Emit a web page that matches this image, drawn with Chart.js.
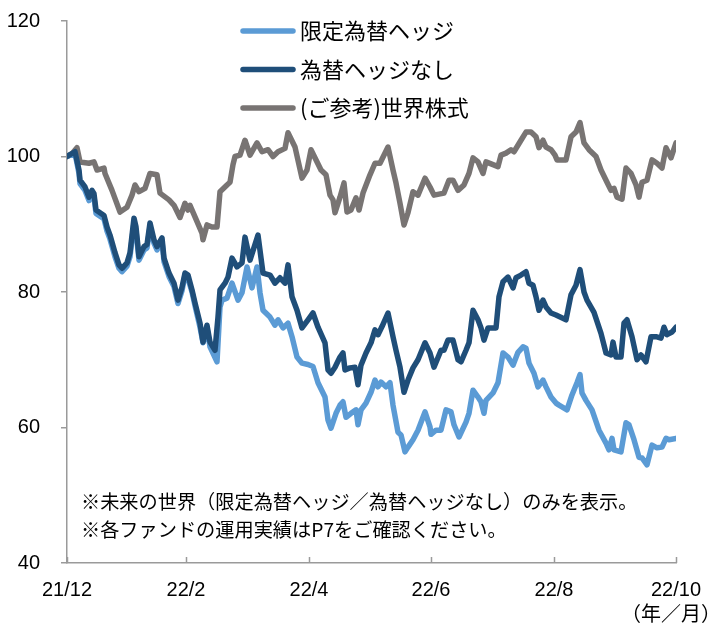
<!DOCTYPE html>
<html lang="ja">
<head>
<meta charset="utf-8">
<title>未来の世界</title>
<script src="https://cdn.jsdelivr.net/npm/chart.js@4.4.0/dist/chart.umd.min.js"></script>
<style>
  body { margin: 0; background: #fff; }
  #wrap { width: 722px; height: 625px; }
</style>
</head>
<body>
<div id="wrap"><canvas id="chart" width="722" height="625"></canvas></div>
<script>
// x = days from 2021/12/1
const tickDays = [0, 59.5, 121, 182, 243.5, 304.5];
const tickLabels = ["21/12", "22/2", "22/4", "22/6", "22/8", "22/10"];

const seriesNames = ["限定為替ヘッジ", "為替ヘッジなし", "(ご参考)世界株式"];

const hedgeDays = [0,4,6,6.5,9,11,12.5,13.5,14.5,16.5, 18.5,20,21.5,24,26,27.5,30,31.5,33.5,34.5,
  36,38.5,40,41.5,43.5,45,47.5,48.5,51,53.5, 55.5,57.5,59,60.5,62.5,64,66.5,68,70,71.5,
  75,76.5,77.5,80,82.5,85.5,87.5,90,92.5,95, 96.5,98,101.5,104,105.5,108,110.5,112.5,115,117.5,
  120.5,123,125.5,129,130.5,132,134.5,136.5,138,139.5, 142,144.5,145.5,147,149.5,152,154,155.5,157,159.5,
  161.5,163,165.5,167,169,170.5,173,175.5,179,181.5, 182,184.5,187,189.5,192,193.5,196,199.5,201,203,
  205.5,207,208.5,209.5,213,215.5,218,220.5,223,225.5, 228,229.5,231,233.5,235.5,238,239.5,242,244.5,246,
  250,252.5,255,256.5,257.5,259.5,262.5,266,269.5,271, 272.5,273.5,277,279.5,281,283.5,286,287.5,290,292.5,
  295,297.5,299.5,301,304.5];
const hedgeValues = [100,100.5,97.5,96,95,93.5,94.5,94,91.6,91.2, 90.8,89,87.8,85.2,83.5,83,83.8,85.2,90.3,89,
  84.7,86.2,86.5,89.6,87.2,86.2,87.5,84.5,82.3,80.8, 78.3,80.2,82.5,82,80,78,74.8,72.5,74.7,71.9,
  69.7,77.8,78.8,79.1,81.3,78.8,79.9,83.7,80.6,83.7, 79.9,77.3,76.3,75.1,75.9,74.7,75.4,73.4,70.4,69.5,
  69.3,69,66.6,64.5,61.1,59.9,62.1,63.3,63.8,61.5, 62.1,62.6,60.4,62.6,63.6,65.2,67,66,66.7,66,
  66.6,63.3,59.3,58.9,56.4,57.1,58.2,59.6,62.3,60.1, 59,59.6,59.6,62.6,62.3,60.4,58.6,60.8,62.1,65.5,
  64.5,63.8,62.1,64,65.1,66.6,71,70.4,69.2,71.1, 71.9,71.7,69.5,68,66,67,66,64.5,63.6,63.3,
  62.6,64.8,66.6,67.8,65.1,64,62.6,59.6,57.7,56.7, 58.4,56.7,56.4,60.7,60.4,58.2,55.6,55.5,54.5,57.4,
  57,57.1,58.4,58.2,58.4];

const noHedgeDays = [0,4,6,6.5,9,11,12.5,13.5,14.5,16.5, 18.5,20,21.5,24,26,27.5,30,31.5,33.5,34.5,
  36,38.5,40,41.5,43.5,45,47.5,48.5,51,53.5, 55.5,57.5,59,60.5,62.5,64,66.5,68,70,71.5,
  74,75.5,76.5,79,80.5,82.5,85,87.5,89,91.5, 95.5,98,101.5,104,106.5,109,110.5,112.5,115,117.5,
  120.5,123,125.5,129,130.5,132,134,136.5,138,139, 141.5,144,145.5,147,149.5,152,154,155.5,157.5,160.5,
  163,164.5,166.5,168.5,170.5,173,175.5,179,181.5,183.5, 187,188.5,190.5,193,195.5,197,199.5,201,203,205.5,
  207,208.5,210.5,214.5,216,218,220.5,223,224.5,227, 229.5,231,233,234.5,236,238,239.5,242,244.5,249.5,
  252,254.5,256.5,258.5,260,263.5,267,269.5,272,273, 274.5,277,278.5,280,282.5,285,287,289.5,292,294.5,
  297,298.5,300,302.5,304.5];
const noHedgeValues = [100,100.7,98,96.5,95.5,94,95,94.5,92.1,91.7, 91.3,89.6,88.4,85.8,84,83.5,84.3,85.8,90.9,89.6,
  85.2,86.7,87,90.2,87.7,86.7,88,85,82.8,81.3, 78.8,80.7,82.8,82.5,80.3,78.4,75.4,72.6,75.1,72.6,
  71.4,76.3,80.3,81.3,82.2,85,83.7,84.3,88.1,84.7, 88.4,82.8,82.5,81.3,82.1,81.3,84,79.3,77.3,74.7,
  75.9,76.9,74.8,72.5,68.5,68,68.9,70.4,71,68.5, 68.8,68.9,66.3,69.2,71,72.5,74.4,73.7,74.9,76.9,
  73.4,71.4,68.9,65.2,67,68.8,70,72.5,71,68.9, 71.4,71.4,72.9,72.9,70,69.7,71.4,72.5,77.3,75.9,
  74.7,72.9,74.7,74.7,79.3,81.5,82.2,80.6,82.1,82.5, 83,81.3,81,79.3,77.3,78.8,77.8,76.9,76.6,75.9,
  79.6,81,83.3,80,78.8,77,73.9,71,70.7,72.6, 70.4,70.4,75.4,75.9,73.4,70,70.7,69.7,73.4,73.4,
  73.2,74.8,73.7,74.1,74.8];

const stockDays = [0,2.5,5,6.5,11,13.5,15,18.5,19,22.5, 26.5,30,32.5,34,36,39,41.5,45,46.5,51,
  53.5,56.5,59,60.5,61.5,64,67.5,68,70,72.5, 75,76.5,80,81.5,83,84,86.5,89,91.5,95,
  97.5,100.5,103,105.5,109,110.5,114,117.5,120,122, 127,129.5,131.5,133,134,136.5,138.5,140,142,144.5,
  146,148,151.5,154,156.5,160.5,163,164.5,166.5,168.5, 170.5,173,175.5,179,181.5,183.5,188.5,191,193,195.5,
  198.5,201,203,205.5,208,209.5,213,215.5,217,219.5, 222,223.5,227,229.5,232,234.5,236,238,239.5,242,
  244,245,249.5,252,254.5,256.5,258.5,261,264.5,267, 270,272,273.5,275,277.5,279.5,282,284.5,286,287.5,
  290,292.5,295,297.5,299.5,302,304.5];
const stockValues = [100,100.4,101.3,99.2,99,99.2,98,98.3,97.5,95, 91.8,92.5,94.3,95.8,94.8,95.3,97.5,97.3,94.6,93.6,
  92.8,91,93.1,92.1,92.8,91.1,88.7,87.7,89.9,89.6, 89.6,94.8,95.8,96.2,98.8,100,100.2,102.4,100.2,102,
  100.7,101,100,100.7,101.2,103.5,101.4,96.8,98,101, 98,97.3,94.3,93.6,91.7,94,96.1,91.8,92.1,93.9,
  92.1,94.6,97.3,99,99,101.4,98,96.1,93.1,89.9, 91.7,94.8,94.3,96.8,95.5,94.3,94.6,96.5,96.5,95,
  95.8,97.5,99.8,99.2,97.5,99.2,98.8,98.5,100.2,100.5, 101,100.7,102.4,103.6,103.6,102.9,101.3,102.4,101.4,101,
  100.2,99.5,99.5,102.9,103.6,105,102,101,100,98, 96.2,95,95.3,94,93.7,98.3,97.5,95.8,94,96.2,
  96.5,99.5,99,98.3,101.3,99.8,102];

const notes = [
  "※未来の世界（限定為替ヘッジ／為替ヘッジなし）のみを表示。",
  "※各ファンドの運用実績はP7をご確認ください。"
];

const colors = ["#5b9bd5", "#1f4e79", "#787473"];
const axisColor = "#9a9a9a";
const numFont = "'Liberation Sans', 'Noto Sans CJK JP', sans-serif";
const jpFont = "'Noto Sans CJK JP', sans-serif";

function points(days, values) {
  return days.map((d, i) => ({ x: d, y: values[i] }));
}

function lineSet(label, days, values, color, order) {
  return {
    label: label,
    data: points(days, values),
    borderColor: color,
    borderWidth: 5.5,
    pointRadius: 0,
    tension: 0,
    borderJoinStyle: "round",
    borderCapStyle: "round",
    order: order
  };
}

// legend, notes, inward x ticks and unit label
const decorations = {
  id: "decorations",
  afterDraw(chart) {
    const ctx = chart.ctx;
    const area = chart.chartArea;
    const xs = chart.scales.x;
    ctx.save();

    ctx.strokeStyle = axisColor;
    ctx.lineWidth = 1.5;
    tickDays.forEach(d => {
      const px = Math.round(xs.getPixelForValue(d)) + 0.5;
      ctx.beginPath();
      ctx.moveTo(px, area.bottom);
      ctx.lineTo(px, area.bottom - 6);
      ctx.stroke();
    });

    ctx.font = "22px " + jpFont;
    ctx.textBaseline = "middle";
    ctx.textAlign = "left";
    seriesNames.forEach((name, i) => {
      const y = 31 + i * 38.5;
      ctx.strokeStyle = colors[i];
      ctx.lineWidth = 5.5;
      ctx.lineCap = "round";
      ctx.beginPath();
      ctx.moveTo(243, y);
      ctx.lineTo(293, y);
      ctx.stroke();
      ctx.fillStyle = "#000";
      ctx.fillText(name, 300, y);
    });

    ctx.font = "19.2px " + jpFont;
    notes.forEach((t, i) => ctx.fillText(t, 81, 502 + i * 28));

    ctx.font = "20px " + jpFont;
    ctx.textAlign = "right";
    ctx.fillText("（年／月）", 721, 613);
    ctx.restore();
  }
};

new Chart(document.querySelector("#chart").getContext("2d"), {
  type: "line",
  data: {
    datasets: [
      lineSet(seriesNames[0], hedgeDays, hedgeValues, colors[0], 1),
      lineSet(seriesNames[1], noHedgeDays, noHedgeValues, colors[1], 0),
      lineSet(seriesNames[2], stockDays, stockValues, colors[2], 2)
    ]
  },
  options: {
    responsive: false,
    animation: false,
    layout: { padding: { top: 21, right: 46, left: 0, bottom: 0 } },
    plugins: { legend: { display: false }, tooltip: { enabled: false } },
    scales: {
      x: {
        type: "linear",
        min: 0,
        max: 304.5,
        afterBuildTicks: scale => { scale.ticks = tickDays.map(v => ({ value: v })); },
        afterFit: scale => {
          scale.height = 62;
          scale.paddingLeft = 0;
          scale.paddingRight = 0;
        },
        grid: { display: true, drawOnChartArea: false, drawTicks: false },
        border: { display: true, color: axisColor, width: 1.5 },
        ticks: {
          autoSkip: false,
          maxRotation: 0,
          padding: 15,
          color: "#000",
          font: { family: numFont, size: 20 },
          callback: value => tickLabels[tickDays.indexOf(value)]
        }
      },
      y: {
        min: 40,
        max: 120,
        afterFit: scale => {
          scale.width = 67;
          scale.paddingTop = 0;
          scale.paddingBottom = 0;
        },
        grid: { drawOnChartArea: false, tickLength: 6, color: axisColor, lineWidth: 1.5 },
        border: { display: true, color: axisColor, width: 1.5 },
        ticks: {
          stepSize: 20,
          padding: 21,
          color: "#000",
          font: { family: numFont, size: 20 }
        }
      }
    }
  },
  plugins: [decorations]
});
</script>
</body>
</html>
